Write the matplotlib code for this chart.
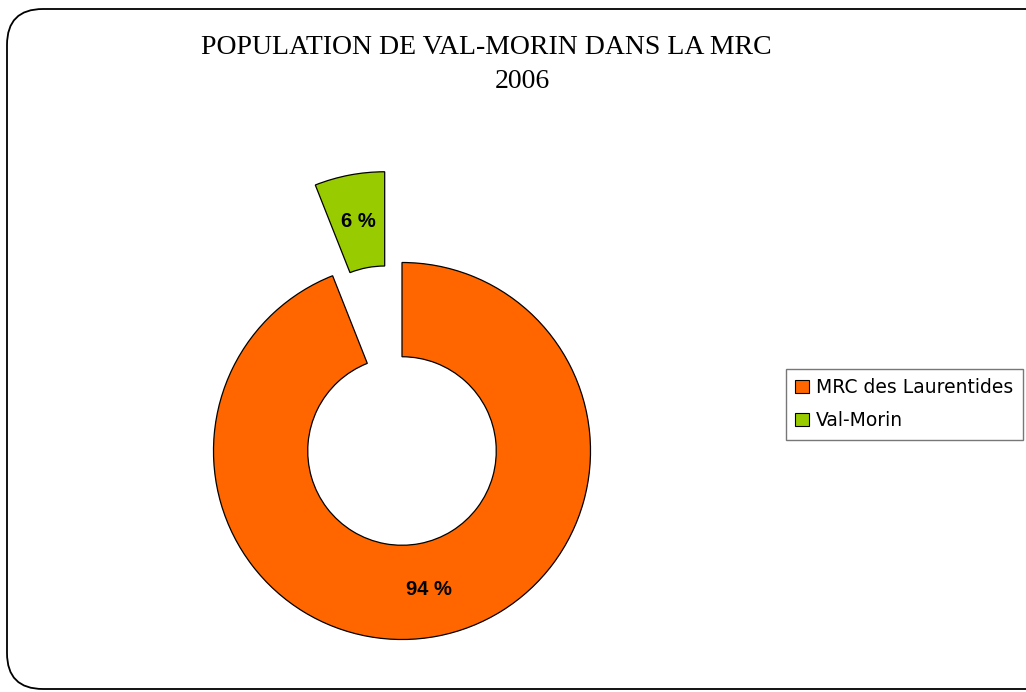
import matplotlib.pyplot as plt
from matplotlib.patches import FancyBboxPatch, Patch

# data
labels = ['MRC des Laurentides', 'Val-Morin']
values = [94, 6]
colors = ['#FF6600', '#99CC00']
title_line1 = 'POPULATION DE VAL-MORIN DANS LA MRC'
title_line2 = '2006'

W, H = 1026, 692
fig = plt.figure(figsize=(W / 100, H / 100), dpi=100)

# rounded outer frame (runs off the right edge like the original)
frame = FancyBboxPatch((7 / W, 3 / H), 1060 / W, 680 / H,
                       boxstyle='round,pad=0,rounding_size=0.035',
                       transform=fig.transFigure, fill=False,
                       edgecolor='black', linewidth=1.3, mutation_aspect=W / H)
fig.add_artist(frame)

# pie axes: center (402, 451) px, outer radius 188.5 px
R = 188.5
cx, cy = 402, H - 451
half = 300
ax = fig.add_axes([(cx - half) / W, (cy - half) / H, 2 * half / W, 2 * half / H])

wedges, texts, autotexts = ax.pie(
    values, colors=colors, startangle=90, counterclock=False,
    explode=[0, 0.49], radius=1,
    autopct=lambda p: '%d %%' % round(p), pctdistance=0.75,
    wedgeprops=dict(width=0.5, edgecolor='black', linewidth=0.9),
    textprops=dict(fontsize=14.5, fontweight='bold', family='Liberation Sans', color='black'))
ax.set_xlim(-half / R, half / R)
ax.set_ylim(-half / R, half / R)
ax.set_aspect('equal')
ax.axis('off')

fig.text(486 / W, 1 - 48 / H, title_line1, ha='center', va='center',
         fontsize=20, family='Liberation Serif')
fig.text(522 / W, 1 - 82 / H, title_line2, ha='center', va='center',
         fontsize=20, family='Liberation Serif')

handles = [Patch(facecolor=c, edgecolor='black', linewidth=0.8) for c in colors]
leg = fig.legend(handles, labels, loc='upper left',
                 bbox_to_anchor=(786 / W, 1 - 369 / H),
                 prop=dict(family='DejaVu Sans', size=13.5),
                 frameon=True, fancybox=False, edgecolor='#555555',
                 handlelength=0.7, handleheight=0.7, handletextpad=0.4,
                 borderpad=0.5, labelspacing=0.75, borderaxespad=0)
leg.get_frame().set_linewidth(1.0)
leg.set_zorder(5)

fig.savefig('out.png', dpi=100)
